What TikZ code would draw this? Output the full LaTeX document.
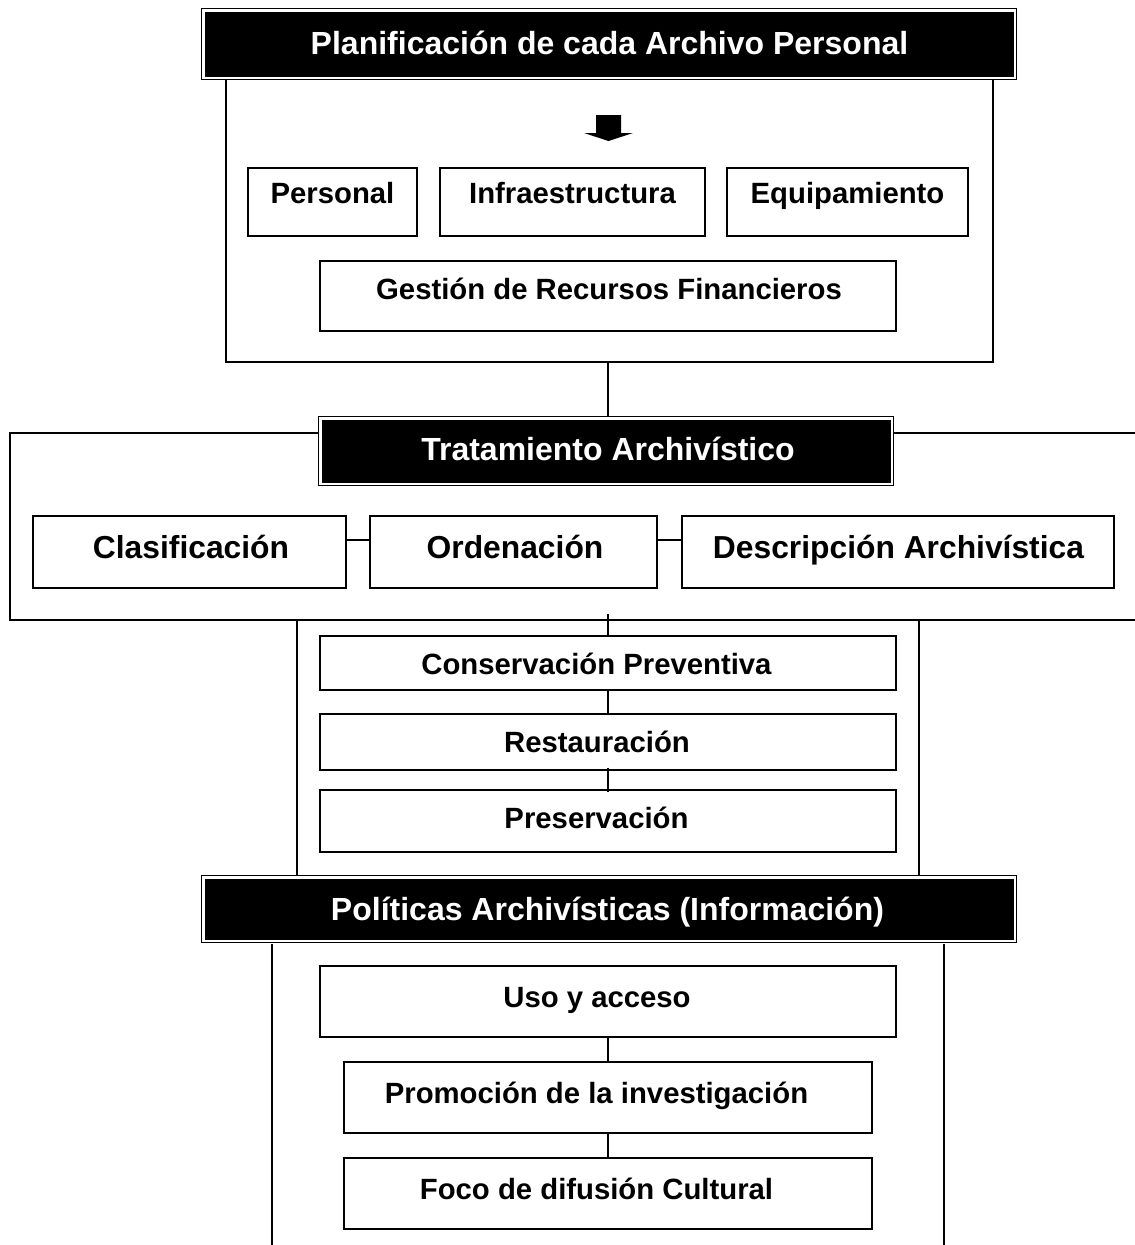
\documentclass[tikz,border=0pt]{standalone}
\usepackage{fontspec}
\setmainfont{Liberation Sans}
\begin{document}
\begin{tikzpicture}[x=1pt,y=-1pt,
  hdr/.style={draw=black, double=white, double distance=2.5pt, line width=1pt, fill=black, inner sep=0pt},
  box/.style={draw=black, line width=1.4pt, fill=white, inner sep=0pt},
  frame/.style={draw=black, line width=1.6pt},
  conn/.style={draw=black, line width=1.3pt},
  htxt/.style={anchor=base, text=white, font=\bfseries\fontsize{32}{38}\selectfont, inner sep=0pt},
  btxt/.style={anchor=base, text=black, font=\bfseries\fontsize{29.3}{35}\selectfont, inner sep=0pt},
  bigtxt/.style={anchor=base, text=black, font=\bfseries\fontsize{31.8}{38}\selectfont, inner sep=0pt}
]
\useasboundingbox (0,0) rectangle (1135,1245);

% frames and side lines
\draw[frame] (226,80) -- (226,362) -- (993,362) -- (993,80);
\draw[frame] (10,433) rectangle (1150,620);
\draw[frame] (297,620) -- (297,875);
\draw[frame] (919,620) -- (919,875);
\draw[frame] (272,944) -- (272,1250);
\draw[frame] (944,944) -- (944,1250);

% headers
\node[hdr, minimum width=811.5pt, minimum height=67.5pt] (h1) at (609,44) {};
\node[hdr, minimum width=571.5pt, minimum height=65.5pt] (h2) at (606,451) {};
\node[hdr, minimum width=811.5pt, minimum height=63.5pt] (h3) at (609,909) {};
\node[htxt] (h1t) at (609.5,54) {Planificación de cada Archivo Personal};
\node[htxt] (h2t) at (608,460) {Tratamiento Archivístico};
\node[htxt] (h3t) at (607.5,920) {Políticas Archivísticas (Información)};

% arrow
\fill[black] (596,115) -- (621,115) -- (621,133) -- (633,133) -- (608.5,141) -- (584,133) -- (596,133) -- cycle;

% boxes
\node[box, minimum width=169pt, minimum height=68pt] (pers) at (332.5,202) {};
\node[box, minimum width=265pt, minimum height=68pt] (infr) at (572.5,202) {};
\node[box, minimum width=241pt, minimum height=68pt] (equi) at (847.5,202) {};
\node[box, minimum width=576pt, minimum height=70pt] (gest) at (608,296) {};
\node[box, minimum width=313pt, minimum height=72pt] (clas) at (189.5,552) {};
\node[box, minimum width=287pt, minimum height=72pt] (orde) at (513.5,552) {};
\node[box, minimum width=432pt, minimum height=72pt] (desc) at (898,552) {};
\node[box, minimum width=576pt, minimum height=54pt] (cons) at (608,663) {};
\node[box, minimum width=576pt, minimum height=56pt] (rest) at (608,742) {};
\node[box, minimum width=576pt, minimum height=62pt] (pres) at (608,821) {};
\node[box, minimum width=576pt, minimum height=71pt] (uso) at (608,1001.5) {};
\node[box, minimum width=528pt, minimum height=71pt] (prom) at (608,1097.5) {};
\node[box, minimum width=528pt, minimum height=71pt] (foco) at (608,1193.5) {};

% texts
\node[btxt] (perst) at (332.5,203) {Personal};
\node[btxt] (infrt) at (572.5,203) {Infraestructura};
\node[btxt] (equit) at (847.5,203) {Equipamiento};
\node[btxt] (gestt) at (609,299) {Gestión de Recursos Financieros};
\node[bigtxt] (clast) at (191,558) {Clasificación};
\node[bigtxt] (ordet) at (515,558) {Ordenación};
\node[bigtxt] (desct) at (898.5,558) {Descripción Archivística};
\node[btxt] (const) at (596.5,674) {Conservación Preventiva};
\node[btxt] (restt) at (597,752) {Restauración};
\node[btxt] (prest) at (596.5,828) {Preservación};
\node[btxt] (usot) at (597,1007) {Uso y acceso};
\node[btxt] (promt) at (596.5,1103) {Promoción de la investigación};
\node[btxt] (focot) at (596.5,1199) {Foco de difusión Cultural};

% connectors
\coordinate (f1b) at (608,362);
\coordinate (f2b) at (608,614);
\draw[conn] (f1b) -- (608,416);
\draw[conn] ([yshift=12pt]clas.east) -- ([yshift=12pt]orde.west);
\draw[conn] ([yshift=12pt]orde.east) -- ([yshift=12pt]desc.west);
\draw[conn] (f2b) -- (cons.north);
\draw[conn] (cons.south) -- (rest.north);
\draw[conn] ([yshift=3pt]rest.south) -- ([yshift=-3pt]pres.north);
\draw[conn] (uso.south) -- (prom.north);
\draw[conn] (prom.south) -- (foco.north);
\end{tikzpicture}
\end{document}
